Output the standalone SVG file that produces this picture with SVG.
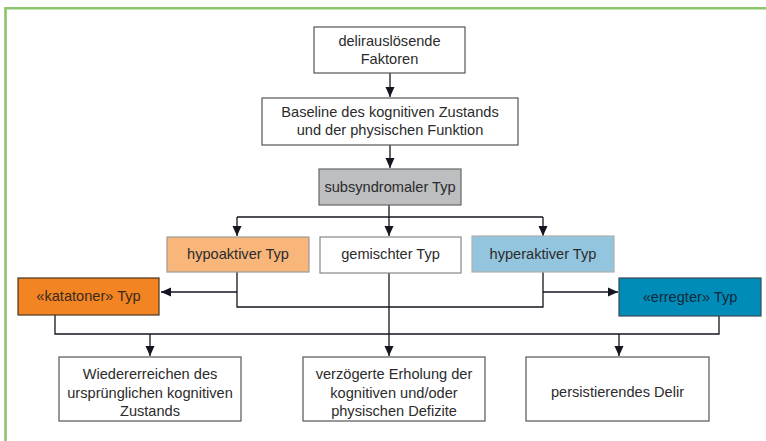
<svg xmlns="http://www.w3.org/2000/svg" width="766" height="441" viewBox="0 0 766 441">
<defs>
<style>
text{font-family:"Liberation Sans",Arial,sans-serif;font-size:14.6px;fill:#2b2b2b;text-anchor:middle}
.box{stroke:#555;stroke-width:1.2}
.ln{fill:none;stroke:#141420;stroke-width:1.3}
</style>
<marker id="ah" markerUnits="userSpaceOnUse" markerWidth="10" markerHeight="10" refX="10" refY="5" orient="auto"><path d="M0,0.5 L10,5 L0,9.5 z" fill="#141420"/></marker>
</defs>
<rect width="766" height="441" fill="#fff"/>
<path d="M5.5,441 V8.3 H766" fill="none" stroke="#8cc56a" stroke-width="2.6"/>
<g id="connectors">
<path class="ln" d="M390,63 V97" marker-end="url(#ah)"/>
<path class="ln" d="M390,145 V168" marker-end="url(#ah)"/>
<path class="ln" d="M389,205 V236" marker-end="url(#ah)"/>
<path class="ln" d="M237,217 H543"/>
<path class="ln" d="M237,217 V236" marker-end="url(#ah)"/>
<path class="ln" d="M543,217 V236" marker-end="url(#ah)"/>
<path class="ln" d="M237,272 V307 H543 V272"/>
<path class="ln" d="M237,292 H161" marker-end="url(#ah)"/>
<path class="ln" d="M543,292 H618" marker-end="url(#ah)"/>
<path class="ln" d="M55,315 V334 H719 V316"/>
<path class="ln" d="M389,273 V356" marker-end="url(#ah)"/>
<path class="ln" d="M150,334 V356" marker-end="url(#ah)"/>
<path class="ln" d="M619,334 V356" marker-end="url(#ah)"/>
</g>
<g id="n1"><rect class="box" x="314" y="27" width="151" height="46" fill="#fff"/><text x="389.5" y="46">delirauslösende</text><text x="389.5" y="64">Faktoren</text></g>
<g id="n2"><rect class="box" x="262" y="98" width="256" height="47" fill="#fff"/><text x="390" y="117">Baseline des kognitiven Zustands</text><text x="390" y="135">und der physischen Funktion</text></g>
<g id="n3"><rect x="319" y="169" width="142" height="36" fill="#bcbec0" stroke="#666" stroke-width="1.2"/><text x="390" y="192">subsyndromaler Typ</text></g>
<g id="n4"><rect x="167" y="237" width="142" height="35" fill="#f9b67b" stroke="#9a9a9a" stroke-width="1.2"/><text x="238" y="259">hypoaktiver Typ</text></g>
<g id="n5"><rect x="320" y="237" width="141" height="36" fill="#fff" stroke="#888" stroke-width="1.2"/><text x="390.5" y="259">gemischter Typ</text></g>
<g id="n6"><rect x="472" y="236" width="142" height="36" fill="#93c5de" stroke="#b0b0b0" stroke-width="1.2"/><text x="543" y="259">hyperaktiver Typ</text></g>
<g id="n7"><rect x="18" y="278" width="141" height="37" fill="#f28423" stroke="#4a3420" stroke-width="1.2"/><text x="88.5" y="301" style="fill:#3a2a1e">«katatoner» Typ</text></g>
<g id="n8"><rect x="619" y="278" width="142" height="38" fill="#008cb9" stroke="#3a4a55" stroke-width="1.2"/><text x="690" y="302" style="fill:#14283a">«erregter» Typ</text></g>
<g id="n9"><rect class="box" x="59" y="357" width="182" height="64" fill="#fff"/><text x="150" y="379">Wiedererreichen des</text><text x="150" y="397.5">ursprünglichen kognitiven</text><text x="150" y="416">Zustands</text></g>
<g id="n10"><rect class="box" x="303" y="357" width="182" height="64" fill="#fff"/><text x="394" y="379">verzögerte Erholung der</text><text x="394" y="397.5">kognitiven und/oder</text><text x="394" y="416">physischen Defizite</text></g>
<g id="n11"><rect class="box" x="526" y="357" width="183" height="64" fill="#fff"/><text x="617.5" y="397">persistierendes Delir</text></g>
</svg>
